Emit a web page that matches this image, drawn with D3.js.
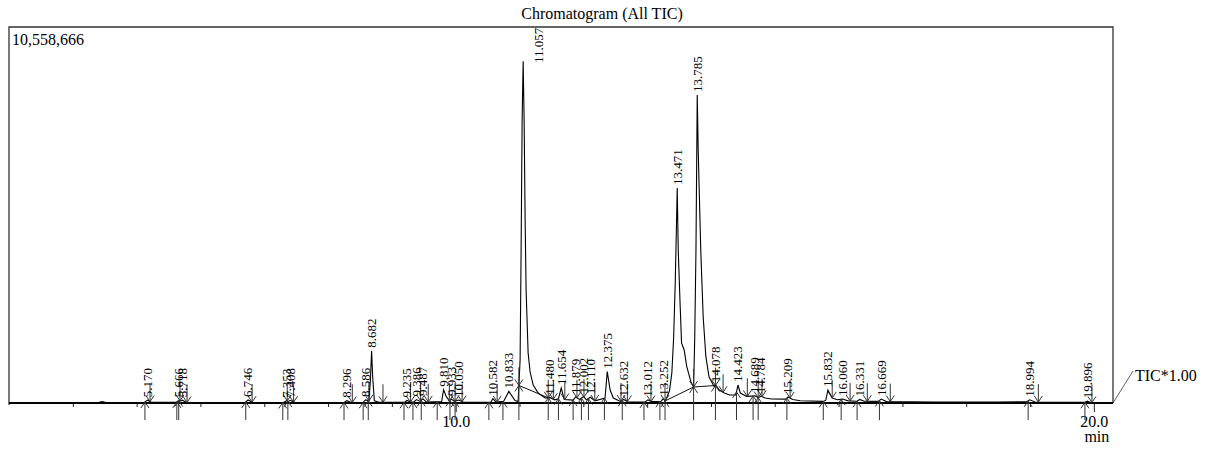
<!DOCTYPE html>
<html>
<head>
<meta charset="utf-8">
<script src="https://cdn.jsdelivr.net/npm/d3@7"></script>
<style>
  body { margin: 0; background: #fff; }
  text { font-family: "Liberation Serif", "Times New Roman", serif; fill: #000; }
</style>
</head>
<body>
<div id="chart-area"></div>
<script>
// Global Variables
const WIDTH = 1205
const HEIGHT = 450
const FRAME = { LEFT: 9, RIGHT: 1113, TOP: 27, BASE: 403 }

const title = "Chromatogram (All TIC)"
const yMax = 10558666
const timeRange = [3.0, 20.3]
const minorTicks = [4, 5, 6, 7, 8, 9, 11, 12, 13, 14, 15, 16, 17, 18, 19]
const majorTicks = [10, 20]

// peak labels (retention time, min) and integration start / end times
const peakRT = [5.170, 5.666, 5.718, 6.746, 7.353, 7.408, 8.296, 8.586, 8.682, 9.235,
  9.386, 9.487, 9.810, 9.933, 10.050, 10.582, 10.833, 11.057, 11.480, 11.654,
  11.879, 12.002, 12.110, 12.375, 12.632, 13.012, 13.252, 13.471, 13.785, 14.078,
  14.423, 14.689, 14.784, 15.209, 15.832, 16.060, 16.331, 16.669, 18.994, 19.896]
const peakStart = [5.13, 5.63, 5.66, 6.71, 7.29, 7.37, 8.25, 8.55, 8.63, 9.19,
  9.33, 9.46, 9.71, 9.91, 9.99, 10.52, 10.74, 10.99, 11.45, 11.61,
  11.84, 11.97, 12.08, 12.33, 12.61, 12.95, 13.20, 13.28, 13.728, 14.07,
  14.40, 14.66, 14.74, 15.19, 15.76, 16.04, 16.29, 16.64, 18.97, 19.86]
const peakEnd = [5.21, 5.68, 5.79, 6.81, 7.36, 7.46, 8.38, 8.64, 8.86, 9.29,
  9.45, 9.57, 9.90, 9.99, 10.10, 10.65, 10.99, 11.45, 11.53, 11.71,
  11.90, 12.01, 12.18, 12.59, 12.69, 13.06, 13.28, 13.728, 14.07, 14.19,
  14.57, 14.74, 14.80, 15.24, 15.90, 16.18, 16.45, 16.81, 19.13, 19.97]

// drawn integration baselines (from, to)
const baseSegs = [[10.99, 11.45], [13.28, 13.728], [13.728, 14.07]]

// TIC trace: [time (min), intensity]
const trace = [
  [3.00, 10000], [4.40, 12000], [4.46, 40000], [4.52, 12000],
  [5.12, 15000], [5.17, 80000], [5.23, 20000],
  [5.62, 20000], [5.666, 75000], [5.69, 50000], [5.718, 80000], [5.78, 15000],
  [6.70, 15000], [6.746, 85000], [6.82, 15000],
  [7.30, 15000], [7.353, 65000], [7.38, 45000], [7.408, 75000], [7.47, 15000],
  [8.25, 15000], [8.296, 65000], [8.36, 15000],
  [8.55, 20000], [8.586, 85000], [8.64, 60000], [8.665, 700000], [8.682, 1470000],
  [8.70, 700000], [8.725, 60000], [8.80, 20000],
  [9.20, 20000], [9.235, 70000], [9.29, 25000],
  [9.34, 25000], [9.386, 95000], [9.44, 45000], [9.487, 115000], [9.54, 30000],
  [9.78, 40000], [9.81, 370000], [9.85, 190000], [9.90, 60000], [9.933, 110000],
  [9.98, 45000], [10.05, 85000], [10.12, 20000],
  [10.55, 20000], [10.582, 120000], [10.63, 30000],
  [10.75, 45000], [10.833, 325000], [10.93, 70000],
  [10.978, 40000], [11.009, 1210000], [11.025, 4300000], [11.041, 7950000], [11.057, 9600000],
  [11.072, 7950000], [11.088, 5140000], [11.103, 3170000], [11.135, 1400000], [11.166, 870000],
  [11.213, 510000], [11.292, 280000], [11.40, 140000],
  [11.48, 150000], [11.55, 90000],
  [11.61, 120000], [11.654, 420000], [11.70, 100000],
  [11.84, 80000], [11.879, 170000], [11.94, 100000], [12.002, 180000], [12.05, 90000],
  [12.11, 160000], [12.18, 60000],
  [12.34, 140000], [12.375, 880000], [12.42, 365000], [12.47, 140000], [12.58, 45000],
  [12.632, 100000], [12.70, 30000],
  [12.97, 30000], [13.012, 90000], [13.06, 40000],
  [13.22, 50000], [13.252, 120000], [13.283, 50000],
  [13.35, 340000], [13.387, 845000], [13.415, 1830000], [13.44, 3370000], [13.46, 5050000], [13.471, 6040000],
  [13.487, 4300000], [13.514, 2890000], [13.539, 1690000], [13.58, 1490000], [13.62, 1030000],
  [13.685, 600000], [13.728, 450000],
  [13.745, 1770000], [13.765, 4300000], [13.785, 8650000], [13.80, 7100000], [13.84, 4300000],
  [13.878, 2420000], [13.92, 1300000], [13.97, 730000], [14.05, 466000], [14.078, 500000],
  [14.13, 365000], [14.21, 280000], [14.29, 225000],
  [14.39, 225000], [14.423, 505000], [14.46, 280000], [14.56, 185000], [14.689, 200000],
  [14.74, 150000], [14.784, 190000], [14.85, 140000], [14.95, 112000],
  [15.17, 110000], [15.209, 170000], [15.28, 100000], [15.40, 65000],
  [15.76, 45000], [15.80, 80000], [15.832, 365000], [15.90, 140000], [15.98, 90000],
  [16.06, 110000], [16.15, 60000],
  [16.29, 50000], [16.331, 100000], [16.40, 50000],
  [16.62, 45000], [16.669, 110000], [16.75, 40000],
  [17.50, 30000], [18.50, 30000],
  [18.95, 35000], [18.994, 90000], [19.08, 30000],
  [19.86, 20000], [19.896, 50000], [19.95, 15000], [20.30, 10000]
]

const svg = d3.select("#chart-area").append("svg")
  .attr("width", WIDTH)
  .attr("height", HEIGHT)
  .attr("viewBox", [0, 0, WIDTH, HEIGHT])

// Scales
const x = d3.scaleLinear().domain(timeRange).range([FRAME.LEFT, FRAME.RIGHT])
const y = d3.scaleLinear().domain([0, yMax]).range([FRAME.BASE, FRAME.TOP])

// intensity of the trace at any time (for arrow tips / labels)
const bis = d3.bisector(d => d[0]).left
function valAt(t) {
  const i = bis(trace, t)
  if (i <= 0) return trace[0][1]
  if (i >= trace.length) return trace[trace.length - 1][1]
  const a = trace[i - 1], b = trace[i]
  return a[1] + (b[1] - a[1]) * (t - a[0]) / (b[0] - a[0])
}

// Frame
svg.append("path")
  .attr("d", `M${FRAME.LEFT},${FRAME.BASE + 2}V${FRAME.TOP}H${FRAME.RIGHT}V${FRAME.BASE}`)
  .attr("fill", "none")
  .attr("stroke", "#333")
  .attr("stroke-width", 1.3)

// X axis
const axis = svg.append("g")
  .attr("transform", `translate(0,${FRAME.BASE})`)
  .call(d3.axisBottom(x).tickValues(minorTicks.concat(majorTicks)).tickSize(4).tickFormat(""))
axis.select(".domain").remove()
axis.selectAll(".tick line").attr("stroke", "#222")
axis.selectAll(".tick").filter(d => majorTicks.includes(d))
  .select("line").attr("y2", 9)
axis.selectAll(".tick").filter(d => majorTicks.includes(d))
  .select("text")
  .attr("y", 24).attr("dy", 0)
  .style("font-size", "16px")
  .text(d => d3.format(".1f")(d))

svg.append("line")
  .attr("x1", FRAME.LEFT).attr("x2", FRAME.RIGHT)
  .attr("y1", FRAME.BASE).attr("y2", FRAME.BASE)
  .attr("stroke", "#000")
  .attr("stroke-width", 2)

svg.append("text")
  .attr("x", x(20) + 3).attr("y", 442)
  .attr("text-anchor", "middle")
  .style("font-size", "16px")
  .text("min")

// Integration baselines
svg.selectAll(".bl")
  .data(baseSegs)
  .join("line")
  .attr("class", "bl")
  .attr("x1", d => x(d[0])).attr("y1", d => y(valAt(d[0])))
  .attr("x2", d => x(d[1])).attr("y2", d => y(valAt(d[1])))
  .attr("stroke", "#111")
  .attr("stroke-width", 1)

// Trace
svg.append("path")
  .datum(trace)
  .attr("d", d3.line().x(d => x(d[0])).y(d => y(d[1])))
  .attr("fill", "none")
  .attr("stroke", "#000")
  .attr("stroke-width", 1.1)

// Peak start arrows (from below) and end arrows (from above)
const arrowColor = "#333"
svg.selectAll(".up")
  .data(peakStart)
  .join("path")
  .attr("class", "up")
  .attr("d", t => {
    const px = x(t), tip = y(valAt(t))
    return `M${px},420V${tip}M${px - 4},${tip + 6}L${px},${tip}L${px + 4},${tip + 6}`
  })
  .attr("fill", "none").attr("stroke", arrowColor).attr("stroke-width", 1)

svg.selectAll(".down")
  .data(peakEnd)
  .join("path")
  .attr("class", "down")
  .attr("d", t => {
    const px = x(t), tip = y(valAt(t))
    return `M${px},${tip - 18}V${tip}M${px - 4},${tip - 6}L${px},${tip}L${px + 4},${tip - 6}`
  })
  .attr("fill", "none").attr("stroke", arrowColor).attr("stroke-width", 1)

// Peak labels (moved aside when they would hit the frame top)
const labelLen = 36
svg.selectAll(".labels")
  .data(peakRT)
  .join("text")
  .attr("class", "labels")
  .attr("transform", t => {
    let y0 = y(valAt(t)) - 3
    let dx = 0
    if (y0 - labelLen < FRAME.TOP) {
      dx = 16
      y0 = FRAME.TOP + labelLen
    }
    return `translate(${x(t) + dx},${y0}) rotate(-90)`
  })
  .attr("dy", "0.33em")
  .style("font-size", "13px")
  .text(t => d3.format(".3f")(t))

// Title and texts
svg.append("text")
  .attr("x", 602).attr("y", 19)
  .attr("text-anchor", "middle")
  .style("font-size", "16px")
  .text(title)

svg.append("text")
  .attr("x", FRAME.LEFT + 3).attr("y", 45)
  .style("font-size", "16px")
  .text(d3.format(",")(yMax))

svg.append("line")
  .attr("x1", FRAME.RIGHT).attr("y1", FRAME.BASE)
  .attr("x2", FRAME.RIGHT + 20).attr("y2", 371)
  .attr("stroke", "#333")
  .attr("stroke-width", 0.8)
svg.append("text")
  .attr("x", FRAME.RIGHT + 22).attr("y", 381)
  .style("font-size", "16px")
  .text("TIC*1.00")
</script>
</body>
</html>
